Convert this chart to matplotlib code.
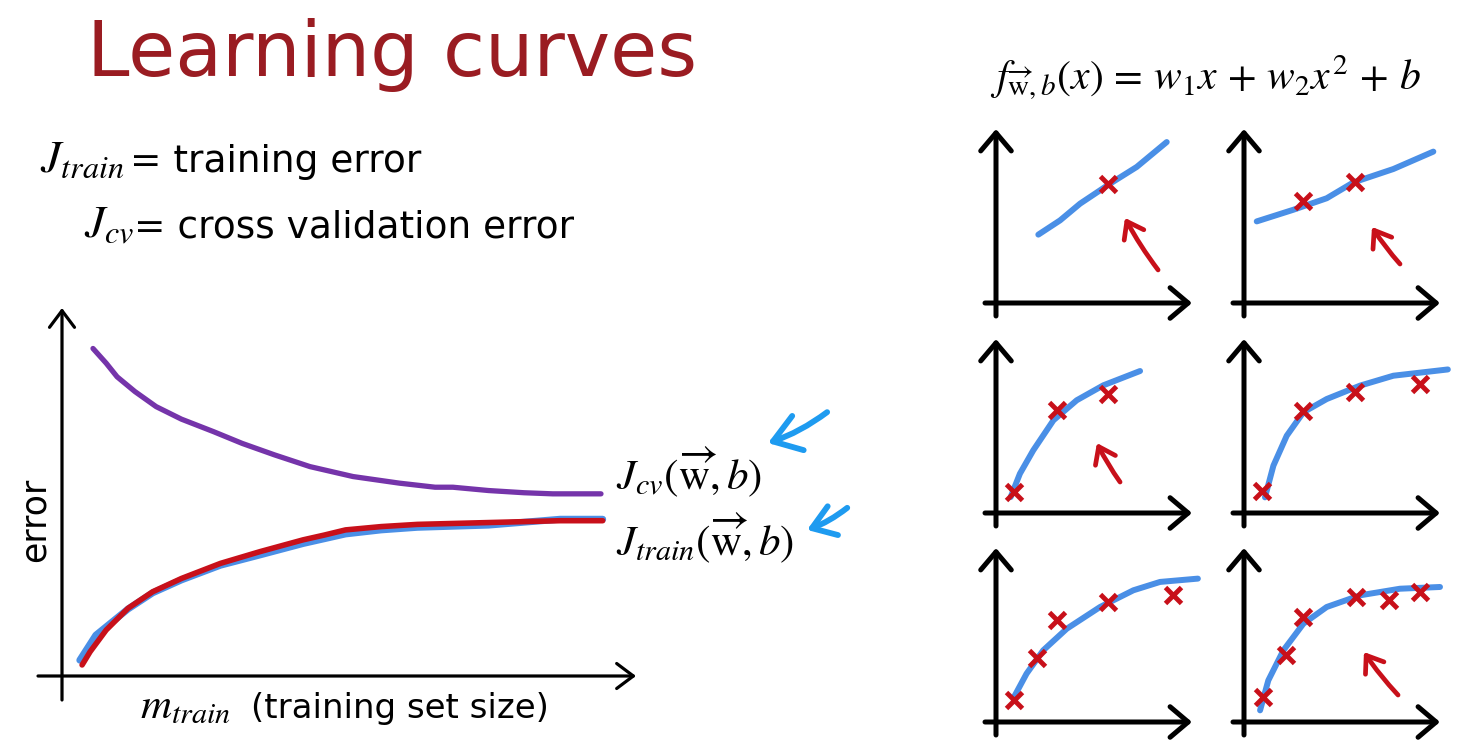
import matplotlib
matplotlib.use("Agg")
import matplotlib.pyplot as plt

plt.rcParams['mathtext.fontset'] = 'stix'
plt.rcParams['font.family'] = 'DejaVu Sans'

# --- main learning curve (x: training set size, y: error, arbitrary 0-100 units)
cv_size = [5.4, 7.7, 9.6, 12.7, 16.4, 20.8, 26.4, 31.4, 37.0, 43.2, 50.7, 58.8, 65.0,
           68.1, 74.3, 80.5, 85.5, 93.9]
j_cv = [89.0, 85.0, 81.3, 77.3, 73.2, 69.8, 66.4, 63.2, 60.1, 56.9, 54.2, 52.4, 51.3,
        51.3, 50.4, 49.8, 49.5, 49.5]

train_size = [3.5, 4.9, 7.7, 11.5, 15.8, 20.8, 27.6, 34.5, 42.0, 45.7, 49.4, 55.6, 61.9,
              74.3, 86.8, 94.2]
j_train = [3.0, 6.6, 12.5, 18.4, 22.9, 26.5, 30.6, 33.8, 37.0, 38.3, 39.7, 40.6, 41.2,
           41.7, 42.2, 42.2]

train_size_blue = [3.1, 5.9, 11.5, 15.8, 20.8, 27.6, 34.5, 42.0, 49.4, 55.6, 61.9, 74.3,
                   86.8, 94.2]
j_train_blue = [4.3, 11.1, 18.2, 22.6, 26.1, 30.1, 32.9, 36.0, 38.6, 39.7, 40.4, 41.0,
                42.6, 42.6]

# --- six small fits (0-10 units each), growing training set
fit_x = [
    [2.16, 3.27, 4.29, 5.82, 7.18, 8.71],
    [0.65, 2.52, 4.22, 5.58, 7.62, 9.66],
    [0.75, 1.22, 1.90, 2.93, 4.12, 5.48, 7.35],
    [1.07, 1.50, 2.18, 3.03, 4.22, 5.92, 7.62, 10.4],
    [0.92, 1.56, 2.41, 3.61, 5.31, 7.01, 8.37, 10.3],
    [0.82, 1.24, 2.01, 3.03, 4.22, 5.92, 7.96, 10.0],
]
fit_y = [
    [3.93, 4.75, 5.71, 6.86, 7.82, 9.25],
    [4.69, 5.36, 6.02, 6.93, 7.70, 8.70],
    [0.92, 2.26, 3.60, 5.33, 6.48, 7.34, 8.16],
    [0.90, 2.72, 4.44, 5.79, 6.55, 7.32, 7.89, 8.25],
    [1.44, 2.78, 4.12, 5.36, 6.61, 7.57, 8.05, 8.24],
    [0.67, 2.39, 4.12, 5.65, 6.61, 7.28, 7.66, 7.76],
]
pts_x = [
    [5.73],
    [3.03, 5.66],
    [0.92, 3.10, 5.73],
    [0.90, 3.03, 5.66, 8.98],
    [0.92, 2.11, 3.10, 5.73, 9.05],
    [0.95, 2.14, 3.03, 5.71, 7.41, 8.98],
]
pts_y = [
    [6.86],
    [5.88, 6.93],
    [1.21, 5.90, 6.86],
    [1.28, 5.88, 6.97, 7.41],
    [1.25, 3.70, 5.88, 6.90, 7.28],
    [1.44, 3.83, 6.03, 7.18, 6.99, 7.47],
]

W, H = 1461, 746
RED = '#C8101A'
BLUE = '#4A8FE6'
ARROW_BLUE = '#1E9BF0'
PURPLE = '#7534AA'
TITLE_RED = '#9A1C22'

fig = plt.figure(figsize=(W / 100, H / 100), dpi=100)


def px_axes(left, bottom, width, height):
    # pixel box (from top-left of image) -> figure axes
    return fig.add_axes([left / W, 1 - bottom / H, width / W, height / H])


def px_text(x, y, s, **kw):
    return fig.text(x / W, 1 - y / H, s, va='baseline', **kw)


def axis_arrows(ax, lw, hl, hw, ext_x, ext_y):
    style = '->,head_length=%s,head_width=%s' % (hl, hw)
    for tip, start in [((0, 1), (0, -ext_y)), ((1, 0), (-ext_x, 0))]:
        ax.annotate('', xy=tip, xytext=start, xycoords='axes fraction',
                    textcoords='axes fraction', annotation_clip=False,
                    arrowprops=dict(arrowstyle=style, lw=lw, color='black',
                                    mutation_scale=20, shrinkA=0, shrinkB=0))


# title and definitions
px_text(87, 76, 'Learning curves', fontsize=55, color=TITLE_RED)
px_text(40, 172, r'$J_{train}$', fontsize=33)
px_text(130, 172, '= training error', fontsize=27)
px_text(84, 237, r'$J_{cv}$', fontsize=33)
px_text(134, 237, '= cross validation error', fontsize=27)
px_text(990, 90, r'$f_{\overrightarrow{\mathrm{w}},b}(x)\,=\,w_1x\,+\,w_2x^2\,+\,b$', fontsize=30)

# main learning curve
ax = px_axes(62, 676, 574, 368)
ax.set_xlim(0, 100)
ax.set_ylim(0, 100)
ax.axis('off')
axis_arrows(ax, 2.3, 0.6, 0.45, 24 / 574, 24 / 368)
ax.plot(cv_size, j_cv, color=PURPLE, lw=3.8, solid_capstyle='round', clip_on=False)
ax.plot(train_size_blue, j_train_blue, color=BLUE, lw=5, solid_capstyle='round', clip_on=False)
ax.plot(train_size, j_train, color=RED, lw=4.0, solid_capstyle='round', clip_on=False)

ax.text(-4.7, 42.4, 'error', rotation=90, fontsize=25, ha='center', va='center')
px_text(140, 718, r'$m_{train}$', fontsize=31)
px_text(251, 718, '(training set size)', fontsize=24.5)
ax.text(96.5, 55.4, r'$J_{cv}(\overrightarrow{\mathrm{w}}, b)$', fontsize=31, va='center')
ax.text(96.5, 37.5, r'$J_{train}(\overrightarrow{\mathrm{w}}, b)$', fontsize=31, va='center')

blue_arrow = dict(arrowstyle='->,head_length=0.95,head_width=0.65', lw=4.2, color=ARROW_BLUE,
                  mutation_scale=20, shrinkA=0, shrinkB=0,
                  connectionstyle='arc3,rad=-0.08', capstyle='round', joinstyle='round')
ax.annotate('', xy=(123.0, 63.3), xytext=(133.3, 71.7), arrowprops=blue_arrow,
            annotation_clip=False)
ax.annotate('', xy=(129.8, 39.7), xytext=(136.8, 45.7),
            arrowprops=dict(blue_arrow, arrowstyle='->,head_length=0.8,head_width=0.55'),
            annotation_clip=False)

# six small fits
lefts = [996, 1244]
bottoms = [303, 513, 722]
red_arrows = {0: ((6.58, 4.89), (8.27, 1.90)),
              1: ((6.53, 4.37), (7.96, 2.24)),
              2: ((5.15, 4.02), (6.33, 1.78)),
              5: ((6.12, 4.02), (7.86, 1.55))}
for i in range(6):
    r, c = divmod(i, 2)
    sax = px_axes(lefts[c], bottoms[r], 196, 174)
    sax.set_xlim(0, 10)
    sax.set_ylim(0, 10)
    sax.axis('off')
    axis_arrows(sax, 3.6, 0.65, 0.55, 11 / 196, 13 / 174)
    sax.plot(fit_x[i], fit_y[i], color=BLUE, lw=4.3, solid_capstyle='round', clip_on=False)
    sax.plot(pts_x[i], pts_y[i], 'x', color=RED, ms=12, mew=3.5, clip_on=False)
    if i in red_arrows:
        tip, tail = red_arrows[i]
        sax.annotate('', xy=tip, xytext=tail, annotation_clip=False,
                     arrowprops=dict(arrowstyle='->,head_length=0.55,head_width=0.4',
                                     lw=3.4, color=RED, mutation_scale=20,
                                     shrinkA=0, shrinkB=0, capstyle='round',
                                     connectionstyle='arc3,rad=-0.04'))

fig.savefig('out.png', dpi=100, facecolor='white')
